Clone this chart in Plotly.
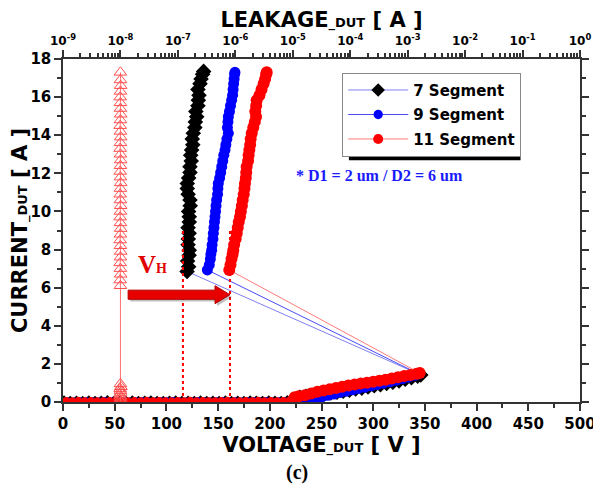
import plotly.graph_objects as go

# ---------------- data ----------------
# 7 Segment (black diamonds): voltage [V], current [A]
v7 = [1, 7, 13, 19, 25, 31, 37, 43, 49, 55, 61, 67, 73, 79, 85, 91, 97, 103, 109, 115,
      121, 127, 133, 139, 145, 151, 157, 163, 169, 175, 181, 187, 193, 199, 205, 211, 217, 223,
      229, 235, 241, 247, 253, 259, 265, 271, 277, 283, 289, 295, 301, 307, 313, 319, 325, 331, 337, 343, 346,
      120.0, 121.5, 120.5, 122.0, 122.1, 121.0, 121.2, 122.0, 121.0, 122.1, 122.1, 121.5, 123.0, 122.8,
      121.0, 120.2, 120.2, 121.5, 122.8, 122.8, 124.0, 123.5, 124.4, 125.5, 125.0, 126.0, 127.5, 128.0,
      129.3, 128.5, 130.5, 130.9, 131.5, 130.5, 132.5, 133.5, 135.0, 136.0]
i7 = [0.08, 0.06, 0.07, 0.05, 0.08, 0.06, 0.07, 0.09, 0.06, 0.07, 0.05, 0.08, 0.06, 0.07, 0.08, 0.06, 0.05, 0.07, 0.08, 0.06,
      0.07, 0.05, 0.08, 0.06, 0.07, 0.06, 0.08, 0.05, 0.07, 0.06, 0.08, 0.07, 0.06, 0.08, 0.07, 0.06, 0.09, 0.10,
      0.25, 0.30, 0.34, 0.38, 0.42, 0.47, 0.52, 0.57, 0.62, 0.68, 0.73, 0.79, 0.85, 0.91, 0.97, 1.04, 1.11, 1.19, 1.27, 1.36, 1.42,
      6.85, 7.10, 7.40, 7.70, 7.97, 8.25, 8.55, 8.85, 9.15, 9.45, 9.72, 10.00, 10.30, 10.60,
      10.90, 11.20, 11.47, 11.75, 12.05, 12.35, 12.65, 12.95, 13.22, 13.50, 13.80, 14.10, 14.40, 14.70,
      14.97, 15.25, 15.55, 15.84, 16.10, 16.40, 16.70, 16.95, 17.20, 17.35]

# 9 Segment (blue circles)
v9 = [4, 10, 16, 22, 28, 34, 40, 46, 52, 58, 64, 70, 76, 82, 88, 94, 100, 106, 112, 118,
      124, 130, 136, 142, 148, 154, 160, 166, 172, 178, 184, 190, 196, 202, 208, 214, 220, 226,
      232, 238, 244, 250, 256, 262, 268, 274, 280, 286, 292, 298, 304, 310, 316, 322, 328, 334, 340, 344,
      139.6, 141.5, 142.5, 143.0, 143.8, 144.2, 145.0, 145.4, 146.0, 146.5, 147.0, 147.5, 148.0, 148.6,
      149.5, 149.8, 150.2, 151.5, 152.5, 153.5, 154.5, 155.5, 156.7, 157.5, 158.5, 159.9, 159.0, 159.5,
      159.9, 161.0, 162.0, 163.1, 164.0, 164.5, 165.0, 165.5, 166.0, 166.3]
i9 = [0.07, 0.05, 0.08, 0.06, 0.07, 0.05, 0.08, 0.06, 0.07, 0.08, 0.05, 0.07, 0.06, 0.08, 0.05, 0.07, 0.06, 0.08, 0.07, 0.05,
      0.06, 0.08, 0.07, 0.05, 0.06, 0.08, 0.07, 0.06, 0.05, 0.08, 0.07, 0.06, 0.08, 0.05, 0.07, 0.06, 0.08, 0.09,
      0.12, 0.15, 0.20, 0.27, 0.35, 0.42, 0.50, 0.57, 0.64, 0.71, 0.78, 0.85, 0.92, 0.99, 1.06, 1.14, 1.22, 1.30, 1.40, 1.48,
      6.93, 7.20, 7.50, 7.75, 7.97, 8.25, 8.55, 8.85, 9.15, 9.45, 9.72, 10.00, 10.30, 10.60,
      10.90, 11.20, 11.47, 11.75, 12.05, 12.35, 12.65, 12.95, 13.22, 13.50, 13.80, 14.10, 14.40, 14.70,
      14.97, 15.25, 15.55, 15.84, 16.10, 16.40, 16.70, 16.95, 17.20, 17.30]

# 11 Segment (red circles)
v11 = [3, 9, 15, 21, 27, 33, 39, 45, 51, 57, 63, 69, 75, 81, 87, 93, 99, 105, 111, 117,
       123, 129, 135, 141, 147, 153, 159, 165, 171, 177, 183, 189, 195, 201, 207, 213, 219,
       222, 224, 228, 234, 240, 246, 252, 258, 264, 270, 276, 282, 288, 294, 300, 306, 312, 318, 324, 330, 336, 342, 345,
       160.8, 162.0, 163.0, 164.0, 164.7, 165.5, 167.0, 168.0, 169.0, 170.0, 171.2, 172.0, 173.0, 173.8,
       174.8, 175.5, 176.0, 176.8, 177.2, 177.6, 179.0, 179.5, 180.2, 181.0, 181.5, 182.5, 184.0, 185.5,
       186.7, 186.0, 186.8, 187.3, 190.0, 192.0, 194.0, 195.5, 196.5, 197.0]
i11 = [0.08, 0.07, 0.09, 0.06, 0.08, 0.07, 0.06, 0.08, 0.09, 0.07, 0.06, 0.08, 0.07, 0.09, 0.06, 0.08, 0.07, 0.06, 0.08, 0.07,
       0.09, 0.06, 0.08, 0.07, 0.06, 0.08, 0.09, 0.07, 0.06, 0.08, 0.07, 0.09, 0.06, 0.08, 0.07, 0.08, 0.10,
       0.15, 0.25, 0.30, 0.36, 0.45, 0.54, 0.60, 0.67, 0.74, 0.80, 0.87, 0.92, 0.97, 1.01, 1.06, 1.11, 1.17, 1.23, 1.30, 1.36, 1.42, 1.48, 1.52,
       6.93, 7.20, 7.50, 7.75, 7.97, 8.25, 8.55, 8.85, 9.15, 9.45, 9.72, 10.00, 10.30, 10.60,
       10.90, 11.20, 11.47, 11.75, 12.05, 12.35, 12.65, 12.95, 13.22, 13.50, 13.80, 14.10, 14.40, 14.70,
       14.97, 15.25, 15.55, 15.84, 16.10, 16.40, 16.70, 16.95, 17.20, 17.30]

# Leakage (open triangles, top log axis): leakage [A], current [A]
leak = [1.02e-8, 0.99e-8, 1.01e-8, 1.00e-8, 0.98e-8, 1.01e-8, 1.00e-8, 0.99e-8, 1.02e-8, 1.00e-8,
        1.00e-8, 0.99e-8, 1.01e-8, 1.00e-8, 0.99e-8, 1.00e-8, 1.01e-8, 1.00e-8, 0.99e-8, 1.00e-8,
        1.01e-8, 1.00e-8, 0.99e-8, 1.00e-8, 1.01e-8, 1.00e-8, 0.99e-8, 1.00e-8, 1.01e-8, 1.00e-8,
        0.99e-8, 1.00e-8, 1.01e-8, 1.00e-8, 0.99e-8, 1.00e-8, 1.01e-8, 1.00e-8, 0.99e-8, 1.00e-8,
        1.01e-8, 1.00e-8, 1.00e-8, 0.99e-8, 1.00e-8, 1.01e-8, 1.00e-8, 1.00e-8]
ileak = [0.02, 0.10, 0.20, 0.30, 0.40, 0.50, 0.60, 0.70, 0.80, 0.95,
         6.10, 6.40, 6.70, 7.00, 7.30, 7.60, 7.90, 8.20, 8.50, 8.80,
         9.10, 9.40, 9.70, 10.00, 10.30, 10.60, 10.90, 11.20, 11.50, 11.80,
         12.10, 12.40, 12.70, 13.00, 13.30, 13.60, 13.90, 14.20, 14.50, 14.80,
         15.10, 15.40, 15.70, 16.00, 16.30, 16.60, 16.90, 17.30]

series_names = ["7 Segment", "9 Segment", "11 Segment"]
x_ticks = [0, 50, 100, 150, 200, 250, 300, 350, 400, 450, 500]
y_ticks = [0, 2, 4, 6, 8, 10, 12, 14, 16, 18]
top_tick_vals = [1e-9, 1e-8, 1e-7, 1e-6, 1e-5, 1e-4, 1e-3, 1e-2, 1e-1, 1]
top_tick_text = ["10<sup>-9</sup>", "10<sup>-8</sup>", "10<sup>-7</sup>", "10<sup>-6</sup>",
                 "10<sup>-5</sup>", "10<sup>-4</sup>", "10<sup>-3</sup>", "10<sup>-2</sup>",
                 "10<sup>-1</sup>", "10<sup>0</sup>"]
vh_left, vh_right, vh_top = 116, 161.5, 9.1

# ---------------- figure ----------------
SANS = "DejaVu Sans"
SERIF = "Liberation Serif, Times New Roman, serif"
fig = go.Figure()


def sizes(cur, small, big):
    return [small if c < 0.2 else big for c in cur]


def mk(symbol, size, color):
    return dict(symbol=symbol, size=size, color=color, opacity=1, line=dict(width=0))


fig.add_trace(go.Scatter(x=v7, y=i7, name=series_names[0], mode="lines+markers",
                         legendgroup="a", line=dict(color="#7f7ff0", width=1),
                         marker=mk("diamond", sizes(i7, 8, 12), "black")))
fig.add_trace(go.Scatter(x=v9, y=i9, name=series_names[1], mode="lines+markers",
                         legendgroup="b", line=dict(color="#4a4af5", width=1),
                         marker=mk("circle", sizes(i9, 7, 11), "#0000ff")))
fig.add_trace(go.Scatter(x=v11, y=i11, name=series_names[2], mode="lines+markers",
                         legendgroup="c", line=dict(color="#ff7a7a", width=1),
                         marker=mk("circle", sizes(i11, 7, 12), "#ff0000")))
fig.add_trace(go.Scatter(x=leak, y=ileak, xaxis="x2", mode="lines+markers", showlegend=False,
                         line=dict(color="#ff7070", width=1),
                         marker=dict(symbol="triangle-up-open", size=11, color="#ff5050",
                                     line=dict(width=1))))

axis_font = dict(family=SANS, size=15, color="black", weight="bold")
title_font = dict(family=SANS, size=21, color="black", weight="bold")
line_col = "#333333"

fig.update_layout(
    width=593, height=484,
    margin=dict(l=55, r=21, t=51, b=90, autoexpand=False),
    paper_bgcolor="white", plot_bgcolor="white",
    showlegend=True,
    legend=dict(x=0.54, y=0.96, xanchor="left", yanchor="top",
                bgcolor="white", bordercolor="#888888", borderwidth=1,
                font=dict(family=SANS, size=15, color="black", weight="bold"),
                itemwidth=60, traceorder="grouped", tracegroupgap=2),
    xaxis=dict(range=[0, 500], tickvals=x_ticks, ticks="outside", ticklen=7, tickwidth=1.5,
               tickcolor=line_col, showline=True, linecolor=line_col, linewidth=1.5,
               showgrid=False, zeroline=False, tickfont=axis_font, automargin=False,
               minor=dict(dtick=25, ticks="outside", ticklen=4, tickcolor=line_col, showgrid=False),
               title=dict(text="VOLTAGE<span style='font-size:13px'>_DUT</span> [ V ]",
                          font=title_font, standoff=0)),
    xaxis2=dict(type="log", range=[-9, 0], overlaying="x", side="top",
                tickvals=top_tick_vals, ticktext=top_tick_text, ticks="outside", ticklen=7,
                tickwidth=1.5, tickcolor=line_col, showline=True, linecolor=line_col, linewidth=1.5,
                showgrid=False, zeroline=False, automargin=False,
                tickfont=dict(family=SANS, size=12, color="black", weight="bold"),
                minor=dict(dtick="D1", ticks="outside", ticklen=4, tickcolor=line_col, showgrid=False),
                title=dict(text="LEAKAGE<span style='font-size:13px'>_DUT</span> [ A ]",
                           font=title_font, standoff=4)),
    yaxis=dict(range=[0, 18], tickvals=y_ticks, ticks="outside", ticklen=7, tickwidth=1.5,
               tickcolor=line_col, showline=True, linecolor=line_col, linewidth=1.5, mirror="ticks",
               showgrid=False, zeroline=False, tickfont=axis_font, automargin=False,
               minor=dict(dtick=1, ticks="outside", ticklen=4, tickcolor=line_col, showgrid=False),
               title=dict(text="CURRENT<span style='font-size:13px'>_DUT</span> [ A ]",
                          font=title_font, standoff=2)),
)

# legend shadow
fig.add_shape(type="rect", xref="paper", yref="paper", x0=0.553, x1=0.885, y0=0.705, y1=0.94,
              fillcolor="black", line=dict(width=0), layer="above")

# V_H dotted guides
for xv in (vh_left, vh_right):
    fig.add_shape(type="line", x0=xv, x1=xv, y0=0, y1=vh_top,
                  line=dict(color="#ff0000", width=2, dash="dot"), layer="above")

# red arrow (shadow + body)
def arrow_path(dx, dy):
    pts = [(63 + dx, 5.39 + dy), (147 + dx, 5.39 + dy), (147 + dx, 5.16 + dy), (161.5 + dx, 5.63 + dy),
           (147 + dx, 6.10 + dy), (147 + dx, 5.87 + dy), (63 + dx, 5.87 + dy)]
    return "M " + " L ".join(f"{a},{b}" for a, b in pts) + " Z"

fig.add_shape(type="path", path=arrow_path(2, -0.12), fillcolor="rgba(0,0,0,0.25)",
              line=dict(width=0), layer="above")
fig.add_shape(type="path", path=arrow_path(0, 0), fillcolor="#e60000",
              line=dict(color="#b00000", width=1), layer="above")

fig.add_annotation(x=87, y=7.2, text="V<span style='font-size:14px'>H</span>", showarrow=False,
                   font=dict(family=SERIF, size=25, color="#e00000", weight="bold"))
fig.add_annotation(xref="paper", yref="paper", x=0.778, y=0.659,
                   text="* D1 = 2 um / D2 = 6 um", showarrow=False,
                   font=dict(family=SERIF, size=16, color="#1a1aff", weight="bold"))
fig.add_annotation(xref="paper", yref="paper", x=0.453, y=-0.205, yanchor="middle",
                   text="(c)", showarrow=False,
                   font=dict(family=SERIF, size=20, color="black", weight="bold"))

fig.write_html("out.html")
